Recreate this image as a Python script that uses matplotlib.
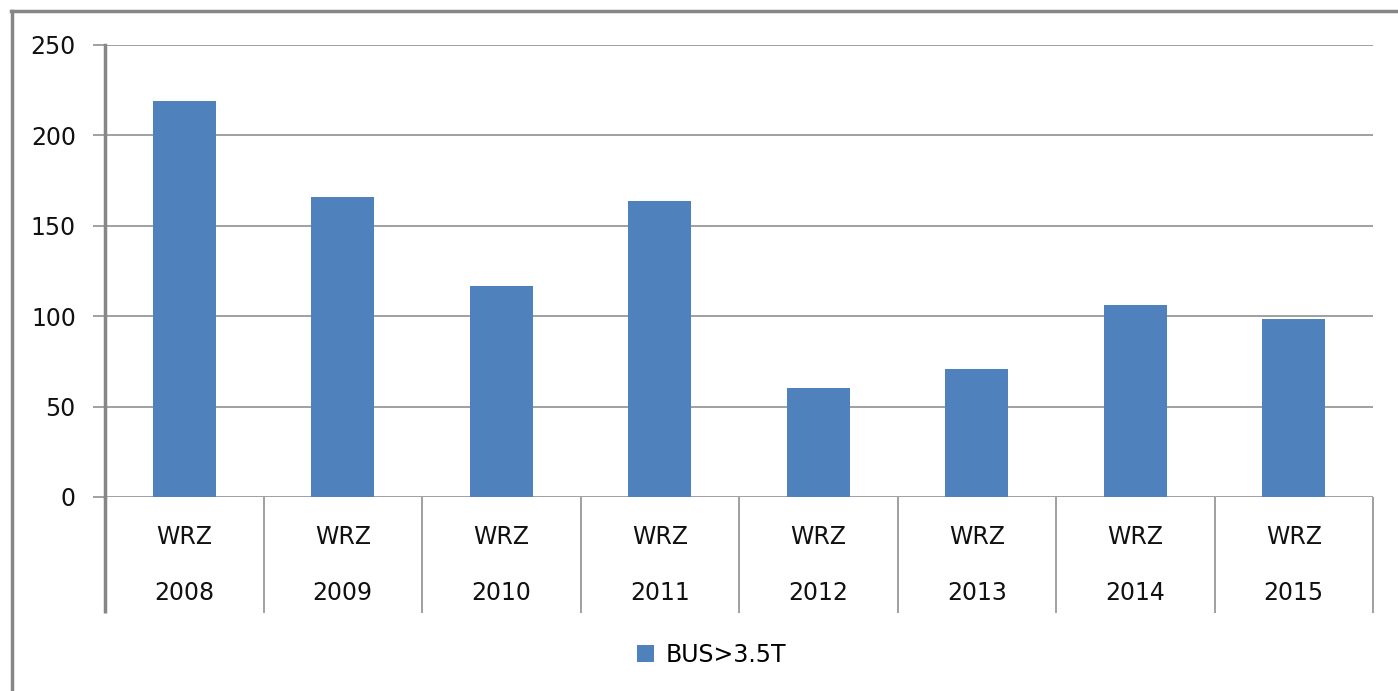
import matplotlib.pyplot as plt
from matplotlib.patches import Patch
from matplotlib.lines import Line2D

# data
years = ['2008', '2009', '2010', '2011', '2012', '2013', '2014', '2015']
region = 'WRZ'
bus_values = [219, 166, 116.5, 163.5, 60.3, 71, 106, 98.5]
series_name = 'BUS>3.5T'
y_ticks = [0, 50, 100, 150, 200, 250]

bar_color = '#4F81BD'
line_color = '#868686'
text_color = '#111111'

fig = plt.figure(figsize=(13.98, 6.91), dpi=100)
ax = fig.add_axes([105 / 1398, 1 - 497 / 691, (1373 - 105) / 1398, (497 - 45) / 691])

# bars
x = [i + 0.5 for i in range(len(years))]
ax.bar(x, bus_values, width=0.4, color=bar_color, zorder=3)

ax.set_xlim(0, len(years))
ax.set_ylim(0, 250)
ax.set_yticks(y_ticks)
ax.yaxis.grid(True, color=line_color, linewidth=1.1)
ax.set_axisbelow(True)

for s in ['top', 'right', 'bottom']:
    ax.spines[s].set_visible(False)
ax.spines['left'].set_color(line_color)
ax.spines['left'].set_linewidth(2.5)

ax.tick_params(axis='y', direction='out', length=9, width=1.1, color=line_color,
               labelsize=17, pad=12, labelcolor=text_color)
ax.set_xticks([])

# category separators and two-line labels
trans = ax.get_xaxis_transform()
for k in range(len(years) + 1):
    lw = 2.5 if k == 0 else 1.1
    ax.plot([k, k], [0, -0.257], transform=trans, color=line_color, lw=lw,
            clip_on=False, solid_capstyle='butt')
for xi, yr in zip(x, years):
    ax.text(xi, -0.088, region, transform=trans, ha='center', va='center',
            fontsize=17, color=text_color)
    ax.text(xi, -0.212, yr, transform=trans, ha='center', va='center',
            fontsize=17, color=text_color)

# legend
fig.legend(handles=[Patch(facecolor=bar_color, label=series_name)],
           loc='center', bbox_to_anchor=(0.509, 0.052), frameon=False,
           fontsize=17, handlelength=0.75, handleheight=0.75, handletextpad=0.5)

# outer chart frame (left and top edges visible)
fig.add_artist(Line2D([12 / 1398, 12 / 1398], [0, 1 - 11 / 691],
                      transform=fig.transFigure, color=line_color, lw=2.5))
fig.add_artist(Line2D([11 / 1398, 1], [1 - 11 / 691, 1 - 11 / 691],
                      transform=fig.transFigure, color=line_color, lw=2.5))

plt.savefig('out.png')
